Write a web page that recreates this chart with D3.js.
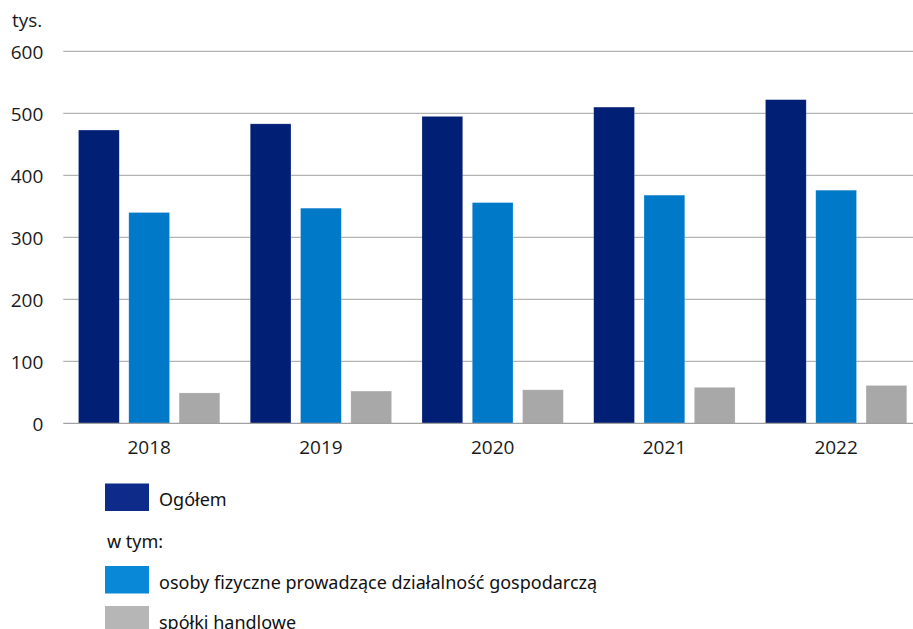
<!DOCTYPE html>
<html>
<head>
<meta charset="utf-8">
<script src="https://cdn.jsdelivr.net/npm/d3@7"></script>
<style>
  body { margin: 0; background: #fff; }
  svg { display: block; }
  .axis text { font-family: "Open Sans", sans-serif; font-size: 19px; fill: #1a1a1a; }
  .legend text { font-family: "Noto Sans", sans-serif; font-size: 18px; fill: #111; }
</style>
</head>
<body>
<svg id="chart" width="913" height="629"></svg>
<script>
// Data ---------------------------------------
var years = ["2018", "2019", "2020", "2021", "2022"];
var ogolem = [473, 483, 495, 510, 522];
var osobyFizyczne = [340, 347, 356, 368, 376];
var spolki = [49, 52, 54, 58, 61];
var yTicks = [0, 100, 200, 300, 400, 500, 600];
var seriesNames = ["Ogółem", "osoby fizyczne prowadzące działalność gospodarczą", "spółki handlowe"];
var seriesColors = ["#001f75", "#0079c9", "#a8a8a8"];
var legendColors = ["#0f2b8a", "#0a88d8", "#b6b6b6"];

var svg = d3.select("#chart");
var mLeft = 63.3, mRight = 922, mTop = 51.3, mBottom = 423.3;

// Scales ---------------------------------------
var x0 = d3.scaleBand()
    .domain(years)
    .range([mLeft, mRight]);
var xs = d3.scaleBand()
    .domain([0, 1, 2])
    .range([0, x0.bandwidth() - 30.4])
    .paddingInner(0.19);

var y = d3.scaleLinear()
    .domain([0, 600])
    .range([mBottom, mTop]);

// Grid -----------------------------------------
svg.append("g")
    .selectAll("line")
    .data(yTicks.filter(function(d) { return d > 0; }))
    .enter()
    .append("line")
    .attr("x1", mLeft)
    .attr("x2", 913)
    .attr("y1", function(d) { return y(d); })
    .attr("y2", function(d) { return y(d); })
    .attr("stroke", "#b3b3b3")
    .attr("stroke-width", 1.2);

// Bars -----------------------------------------
var series = [ogolem, osobyFizyczne, spolki];
series.forEach(function(vals, s) {
  svg.append("g")
      .selectAll("rect")
      .data(vals)
      .enter()
      .append("rect")
      .attr("x", function(d, i) { return x0(years[i]) + 15.2 + xs(s); })
      .attr("y", function(d) { return y(d); })
      .attr("width", xs.bandwidth())
      .attr("height", function(d) { return y(0) - y(d); })
      .attr("fill", seriesColors[s])
      .attr("stroke", "#ffffff")
      .attr("stroke-opacity", 0.35)
      .attr("stroke-width", 0.6);
});

// Baseline
svg.append("line")
    .attr("x1", mLeft)
    .attr("x2", 913)
    .attr("y1", y(0))
    .attr("y2", y(0))
    .attr("stroke", "#a0a0a0")
    .attr("stroke-width", 1.3);

// Axes -----------------------------------------
var yAxis = svg.append("g")
    .attr("class", "axis")
    .attr("transform", "translate(" + (mLeft - 20) + ",0)")
    .call(d3.axisLeft(y).tickValues(yTicks).tickSize(0).tickPadding(0));
yAxis.select(".domain").remove();
yAxis.selectAll("text").attr("dy", "0.36em");

var xAxis = svg.append("g")
    .attr("class", "axis")
    .attr("transform", "translate(0," + (mBottom + 14) + ")")
    .call(d3.axisBottom(x0).tickSize(0).tickPadding(0));
xAxis.select(".domain").remove();
xAxis.selectAll("text").attr("dy", "0.9em");

svg.append("text")
    .attr("x", 12)
    .attr("y", 27)
    .style("font-family", "Open Sans, sans-serif")
    .style("font-size", "19px")
    .style("fill", "#1a1a1a")
    .text("tys.");

// Legend ---------------------------------------
var legend = svg.append("g").attr("class", "legend");
var legendRows = [483.5, 566, 606];
legendRows.forEach(function(ry, i) {
  legend.append("rect")
      .attr("x", 105)
      .attr("y", ry)
      .attr("width", 44)
      .attr("height", 27.5)
      .attr("fill", legendColors[i]);
  legend.append("text")
      .attr("x", 159)
      .attr("y", ry + 22.5)
      .text(seriesNames[i]);
});
legend.append("text")
    .attr("x", 107)
    .attr("y", 548)
    .text("w tym:");
</script>
</body>
</html>
